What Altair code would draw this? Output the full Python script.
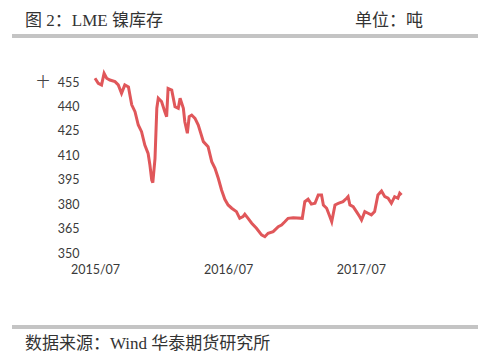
import altair as alt
import pandas as pd

dates = [
    "2015-07-01", "2015-07-10", "2015-07-19", "2015-07-26", "2015-08-02", "2015-08-11",
    "2015-08-25", "2015-09-03", "2015-09-12", "2015-09-21", "2015-10-01", "2015-10-05",
    "2015-10-10", "2015-10-19", "2015-10-28", "2015-11-06", "2015-11-15", "2015-11-24",
    "2015-11-29", "2015-12-04", "2015-12-07", "2015-12-13", "2015-12-18", "2015-12-22",
    "2015-12-31", "2016-01-09", "2016-01-14", "2016-01-18", "2016-01-28", "2016-02-06",
    "2016-02-15", "2016-02-20", "2016-02-29", "2016-03-04", "2016-03-11", "2016-03-16",
    "2016-03-23", "2016-04-01", "2016-04-10", "2016-04-24", "2016-05-07", "2016-05-17",
    "2016-05-26", "2016-06-04", "2016-06-13", "2016-06-22", "2016-07-01", "2016-07-11",
    "2016-07-24", "2016-08-02", "2016-08-11", "2016-08-16", "2016-08-25", "2016-09-04",
    "2016-09-17", "2016-10-01", "2016-10-10", "2016-10-19", "2016-11-02", "2016-11-16",
    "2016-11-25", "2016-12-04", "2016-12-13", "2016-12-27", "2017-01-21", "2017-01-28",
    "2017-02-06", "2017-02-15", "2017-02-25", "2017-03-06",
    "2017-03-15", "2017-03-20", "2017-03-29", "2017-04-07", "2017-04-12", "2017-04-21",
    "2017-04-30", "2017-05-13", "2017-05-23", "2017-05-27", "2017-06-01", "2017-06-10",
    "2017-06-19", "2017-06-28", "2017-07-03", "2017-07-12", "2017-07-21", "2017-07-30",
    "2017-08-08", "2017-08-17", "2017-08-27", "2017-09-05", "2017-09-14", "2017-09-23",
    "2017-10-02", "2017-10-11", "2017-10-16", "2017-10-21",
]
stocks = [
    457.3, 454.2, 453.2, 460.3, 457.3, 456.2,
    455.2, 453.2, 448.0, 453.2, 452.0, 447.0,
    441.0, 436.8, 428.6, 424.5, 416.3, 411.2,
    404.0, 394.8, 393.2, 408.0, 438.9, 445.0,
    443.0, 436.8, 433.7, 451.0, 450.0, 439.8,
    438.8, 445.0, 438.8, 430.6, 423.5, 433.7,
    434.7, 432.7, 428.6, 418.4, 415.3, 406.1,
    402.0, 395.9, 388.7, 383.0, 379.5, 377.5,
    375.4, 371.3, 372.3, 373.8, 371.3, 368.3,
    365.2, 361.1, 360.0, 362.1, 363.1, 366.2,
    367.2, 369.2, 371.3, 371.7, 371.3, 381.5,
    383.0, 380.0, 380.5, 385.6,
    385.6, 379.5, 377.5, 372.3, 369.2, 379.5,
    380.5, 381.5, 383.6, 384.6, 379.5, 378.5,
    375.4, 372.3, 370.3, 375.4, 374.4, 373.4,
    375.4, 385.6, 388.0, 384.6, 383.6, 380.5,
    384.6, 383.6, 386.7, 385.6,
]
y_ticks = [350, 365, 380, 395, 410, 425, 440, 455]
x_ticks = ["2015-07-01", "2016-07-01", "2017-07-01"]

title_text = "图 2：LME 镍库存"
unit_text = "单位：吨"
source_text = "数据来源：Wind  华泰期货研究所"
axis_unit = "十"

df = pd.DataFrame({"date": pd.to_datetime(dates), "stock": stocks})
one = pd.DataFrame({"k": [0]})

x_vals = [alt.DateTime(year=int(d[:4]), month=int(d[5:7]), date=1) for d in x_ticks]

line = alt.Chart(df).mark_line(color="#e0575a", strokeWidth=3, clip=False).encode(
    x=alt.X("date:T",
            scale=alt.Scale(domain=[alt.DateTime(year=2015, month=7, date=1),
                                    alt.DateTime(year=2017, month=10, date=25)]),
            axis=alt.Axis(values=x_vals, labelExpr="timeFormat(datum.value, '%Y/%m')",
                          title=None, domain=False, ticks=False, grid=False,
                          labelPadding=10, labelFont="Lato", labelFontSize=12.5,
                          labelColor="#3a3a3a", labelFlush=False, labelOverlap=False)),
    y=alt.Y("stock:Q",
            scale=alt.Scale(domain=[350, 455], nice=False, zero=False),
            axis=alt.Axis(values=y_ticks, title=None, domain=False, ticks=False, grid=False,
                          labelPadding=16, labelFont="Lato", labelFontSize=12.5,
                          labelColor="#3a3a3a")),
)

cjk = "Liberation Serif, Noto Sans CJK SC"

title = alt.Chart(one).mark_text(text=title_text, align="left", baseline="middle",
                                 font=cjk, fontSize=17, color="#333333").encode(
    x=alt.value(-70), y=alt.value(-61.5))
unit = alt.Chart(one).mark_text(text=unit_text, align="left", baseline="middle",
                                font=cjk, fontSize=17, color="#333333").encode(
    x=alt.value(260), y=alt.value(-61.5))
source = alt.Chart(one).mark_text(text=source_text, align="left", baseline="middle",
                                  font=cjk, fontSize=17, color="#333333").encode(
    x=alt.value(-70), y=alt.value(261.5))
yunit = alt.Chart(one).mark_text(text=axis_unit, align="center", baseline="middle",
                                 font="Noto Sans CJK SC", fontSize=13, color="#444444").encode(
    x=alt.value(-52), y=alt.value(0))
rule_top = alt.Chart(one).mark_rule(color="#c4c4c4", strokeWidth=4).encode(
    x=alt.value(-83), x2=alt.value(383), y=alt.value(-46))
rule_bot = alt.Chart(one).mark_rule(color="#c4c4c4", strokeWidth=4).encode(
    x=alt.value(-83), x2=alt.value(383), y=alt.value(245))

chart = alt.layer(rule_top, rule_bot, title, unit, source, yunit, line).properties(
    width=308, height=171,
    autosize=alt.AutoSizeParams(type="none"),
    padding={"left": 87, "top": 74, "right": 89, "bottom": 102},
    background="white",
).configure_view(strokeWidth=0)

chart.save("out.html", embed_options={"renderer": "svg", "actions": False})
